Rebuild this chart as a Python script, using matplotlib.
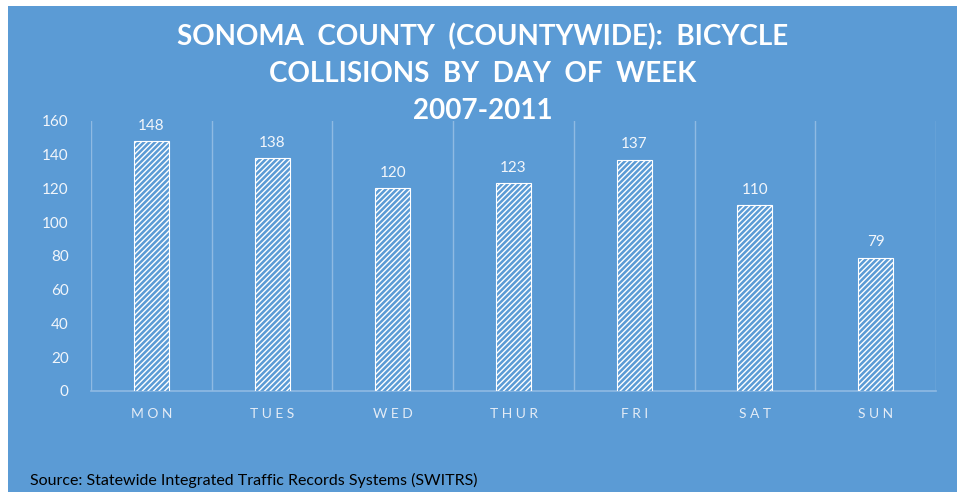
'''
bicycle collisions by day of week, sonoma county 2007-2011
'''
import matplotlib
matplotlib.use('Agg')
import matplotlib.pyplot as plt
from matplotlib.patches import Rectangle

days = ['MON', 'TUES', 'WED', 'THUR', 'FRI', 'SAT', 'SUN']
collisions = [148, 138, 120, 123, 137, 110, 79]
yticks = [0, 20, 40, 60, 80, 100, 120, 140, 160]

blue = '#5B9BD5'
grid = '#8FBAE3'
plt.rcParams['hatch.linewidth'] = 1.0
plt.rcParams['font.family'] = ['Lato', 'DejaVu Sans']

fig = plt.figure(figsize=(9.65, 4.92), dpi=100)
fig.patch.set_facecolor('white')
fig.patches.append(Rectangle((8 / 965, 0), (957 - 8) / 965, 1 - 6 / 492,
                             transform=fig.transFigure, facecolor=blue,
                             edgecolor='none', zorder=-10))

ax = fig.add_axes([91 / 965, 1 - 391 / 492, (936 - 91) / 965, (391 - 121) / 492])
ax.set_facecolor('none')
ax.set_zorder(2)

x = list(range(len(days)))
bars = ax.bar(x, collisions, width=0.29, color=blue, edgecolor='white',
              hatch='//////', linewidth=0.8, zorder=3)

for xi, v in zip(x, collisions):
    ax.text(xi, v + 5, str(v), ha='center', va='bottom', color='#F2F6FB',
            fontsize=11)

ax.set_xlim(-0.5, len(days) - 0.5)
ax.set_ylim(0, 160)
ax.set_yticks(yticks)
ax.set_yticklabels([str(t) for t in yticks], color='#F2F6FB', fontsize=11)
ax.set_xticks(x)
ax.set_xticklabels([' '.join(d) for d in days], color='#E4ECF6', fontsize=10)
ax.tick_params(length=0)
ax.tick_params(axis='y', pad=16)
ax.tick_params(axis='x', pad=12)

# vertical gridlines at category boundaries
for b in range(len(days) + 1):
    ax.axvline(b - 0.5, color=grid, linewidth=1, zorder=1)
for s in ['top', 'right', 'left']:
    ax.spines[s].set_visible(False)
ax.spines['bottom'].set_color(grid)
ax.spines['bottom'].set_linewidth(1.2)

fig.text(0.5, 1 - 37 / 492, 'SONOMA  COUNTY  (COUNTYWIDE):  BICYCLE',
         ha='center', va='center', color='white', fontsize=20, fontweight='bold')
fig.text(0.5, 1 - 74 / 492, 'COLLISIONS  BY  DAY  OF  WEEK',
         ha='center', va='center', color='white', fontsize=20, fontweight='bold')
fig.text(0.5, 1 - 111 / 492, '2007-2011',
         ha='center', va='center', color='white', fontsize=20, fontweight='bold',
         zorder=5)

fig.text(30 / 965, 1 - 480 / 492,
         'Source: Statewide Integrated Traffic Records Systems (SWITRS)',
         ha='left', va='center', color='black', fontsize=11.5)

fig.savefig('out.png', dpi=100)
